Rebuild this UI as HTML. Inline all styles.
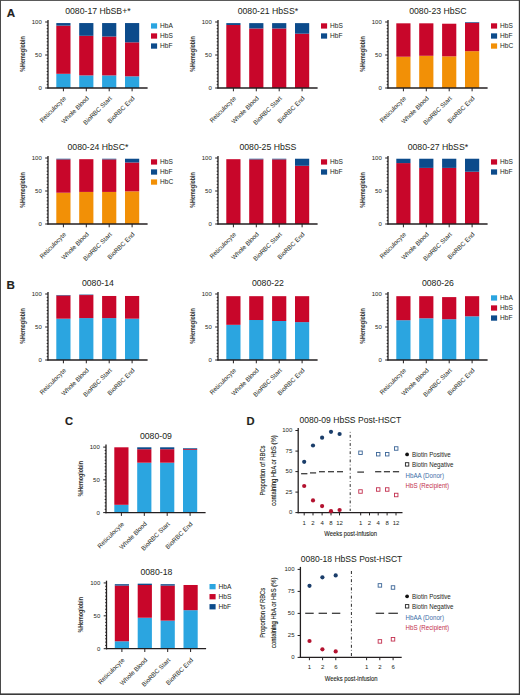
<!DOCTYPE html>
<html><head><meta charset="utf-8"><style>
html,body{margin:0;padding:0;background:#fff;}
svg{display:block;}
text{font-family:"Liberation Sans",sans-serif;}
</style></head><body>
<svg width="520" height="695" viewBox="0 0 520 695" font-family="Liberation Sans, sans-serif">
<rect width="520" height="695" fill="#fff"/>
<rect x="56.3" y="73.81" width="14.2" height="14.19" fill="#2ba5e0"/>
<rect x="56.3" y="25.63" width="14.2" height="48.18" fill="#c8062a"/>
<rect x="56.3" y="23.06" width="14.2" height="2.57" fill="#0c4b8b"/>
<rect x="79.2" y="75.39" width="14.2" height="12.61" fill="#2ba5e0"/>
<rect x="79.2" y="35.79" width="14.2" height="39.6" fill="#c8062a"/>
<rect x="79.2" y="23.06" width="14.2" height="12.74" fill="#0c4b8b"/>
<rect x="102.1" y="75.39" width="14.2" height="12.61" fill="#2ba5e0"/>
<rect x="102.1" y="36.52" width="14.2" height="38.87" fill="#c8062a"/>
<rect x="102.1" y="23.06" width="14.2" height="13.46" fill="#0c4b8b"/>
<rect x="125" y="76.32" width="14.2" height="11.68" fill="#2ba5e0"/>
<rect x="125" y="42.33" width="14.2" height="33.99" fill="#c8062a"/>
<rect x="125" y="23.06" width="14.2" height="19.27" fill="#0c4b8b"/>
<line x1="48" y1="20" x2="48" y2="88.6" stroke="#231f20" stroke-width="1.3" />
<line x1="45.2" y1="88" x2="48" y2="88" stroke="#231f20" stroke-width="1" />
<line x1="46.7" y1="84.7" x2="48" y2="84.7" stroke="#231f20" stroke-width="1" />
<line x1="46.7" y1="81.4" x2="48" y2="81.4" stroke="#231f20" stroke-width="1" />
<line x1="46.7" y1="78.1" x2="48" y2="78.1" stroke="#231f20" stroke-width="1" />
<line x1="46.7" y1="74.8" x2="48" y2="74.8" stroke="#231f20" stroke-width="1" />
<line x1="46.7" y1="71.5" x2="48" y2="71.5" stroke="#231f20" stroke-width="1" />
<line x1="46.7" y1="68.2" x2="48" y2="68.2" stroke="#231f20" stroke-width="1" />
<line x1="46.7" y1="64.9" x2="48" y2="64.9" stroke="#231f20" stroke-width="1" />
<line x1="46.7" y1="61.6" x2="48" y2="61.6" stroke="#231f20" stroke-width="1" />
<line x1="46.7" y1="58.3" x2="48" y2="58.3" stroke="#231f20" stroke-width="1" />
<line x1="45.2" y1="55" x2="48" y2="55" stroke="#231f20" stroke-width="1" />
<line x1="46.7" y1="51.7" x2="48" y2="51.7" stroke="#231f20" stroke-width="1" />
<line x1="46.7" y1="48.4" x2="48" y2="48.4" stroke="#231f20" stroke-width="1" />
<line x1="46.7" y1="45.1" x2="48" y2="45.1" stroke="#231f20" stroke-width="1" />
<line x1="46.7" y1="41.8" x2="48" y2="41.8" stroke="#231f20" stroke-width="1" />
<line x1="46.7" y1="38.5" x2="48" y2="38.5" stroke="#231f20" stroke-width="1" />
<line x1="46.7" y1="35.2" x2="48" y2="35.2" stroke="#231f20" stroke-width="1" />
<line x1="46.7" y1="31.9" x2="48" y2="31.9" stroke="#231f20" stroke-width="1" />
<line x1="46.7" y1="28.6" x2="48" y2="28.6" stroke="#231f20" stroke-width="1" />
<line x1="46.7" y1="25.3" x2="48" y2="25.3" stroke="#231f20" stroke-width="1" />
<line x1="45.2" y1="22" x2="48" y2="22" stroke="#231f20" stroke-width="1" />
<text x="41.8" y="90.15" font-size="6" text-anchor="end" fill="#231f20" stroke="#231f20" stroke-width="0" >0</text>
<text x="41.8" y="57.15" font-size="6" text-anchor="end" fill="#231f20" stroke="#231f20" stroke-width="0" >50</text>
<text x="41.8" y="24.15" font-size="6" text-anchor="end" fill="#231f20" stroke="#231f20" stroke-width="0" >100</text>
<line x1="47.4" y1="88" x2="147.6" y2="88" stroke="#231f20" stroke-width="1.3" />
<line x1="63.4" y1="88" x2="63.4" y2="91.3" stroke="#231f20" stroke-width="1" />
<text x="66.4" y="98.8" font-size="6.3" text-anchor="end" fill="#231f20" stroke="#231f20" stroke-width="0" transform="rotate(-45 66.4 98.8)">Reticulocyte</text>
<line x1="86.3" y1="88" x2="86.3" y2="91.3" stroke="#231f20" stroke-width="1" />
<text x="89.3" y="98.8" font-size="6.3" text-anchor="end" fill="#231f20" stroke="#231f20" stroke-width="0" transform="rotate(-45 89.3 98.8)">Whole Blood</text>
<line x1="109.2" y1="88" x2="109.2" y2="91.3" stroke="#231f20" stroke-width="1" />
<text x="112.2" y="98.8" font-size="6.3" text-anchor="end" fill="#231f20" stroke="#231f20" stroke-width="0" transform="rotate(-45 112.2 98.8)">BioRBC Start</text>
<line x1="132.1" y1="88" x2="132.1" y2="91.3" stroke="#231f20" stroke-width="1" />
<text x="135.1" y="98.8" font-size="6.3" text-anchor="end" fill="#231f20" stroke="#231f20" stroke-width="0" transform="rotate(-45 135.1 98.8)">BioRBC End</text>
<text x="97.9" y="14.4" font-size="8.7" text-anchor="middle" fill="#231f20" stroke="#231f20" stroke-width="0.03" >0080-17 HbSB+*</text>
<text font-size="6.5" font-weight="bold" fill="#333" text-anchor="middle" transform="translate(24.9 53.9) rotate(-90) scale(0.82 1)">%Hemoglobin</text>
<rect x="151" y="23.3" width="6.1" height="5.3" fill="#2ba5e0"/>
<text x="160.1" y="28.3" font-size="6.6" text-anchor="start" fill="#231f20" stroke="#231f20" stroke-width="0" >HbA</text>
<rect x="151" y="33.35" width="6.1" height="5.3" fill="#c8062a"/>
<text x="160.1" y="38.35" font-size="6.6" text-anchor="start" fill="#231f20" stroke="#231f20" stroke-width="0" >HbS</text>
<rect x="151" y="43.4" width="6.1" height="5.3" fill="#0c4b8b"/>
<text x="160.1" y="48.4" font-size="6.6" text-anchor="start" fill="#231f20" stroke="#231f20" stroke-width="0" >HbF</text>
<rect x="226.3" y="24.97" width="14.2" height="63.03" fill="#c8062a"/>
<rect x="226.3" y="23.12" width="14.2" height="1.85" fill="#0c4b8b"/>
<rect x="249.2" y="28.47" width="14.2" height="59.53" fill="#c8062a"/>
<rect x="249.2" y="23.12" width="14.2" height="5.35" fill="#0c4b8b"/>
<rect x="272.1" y="28.47" width="14.2" height="59.53" fill="#c8062a"/>
<rect x="272.1" y="23.12" width="14.2" height="5.35" fill="#0c4b8b"/>
<rect x="295" y="33.68" width="14.2" height="54.32" fill="#c8062a"/>
<rect x="295" y="23.12" width="14.2" height="10.56" fill="#0c4b8b"/>
<line x1="218" y1="20" x2="218" y2="88.6" stroke="#231f20" stroke-width="1.3" />
<line x1="215.2" y1="88" x2="218" y2="88" stroke="#231f20" stroke-width="1" />
<line x1="216.7" y1="84.7" x2="218" y2="84.7" stroke="#231f20" stroke-width="1" />
<line x1="216.7" y1="81.4" x2="218" y2="81.4" stroke="#231f20" stroke-width="1" />
<line x1="216.7" y1="78.1" x2="218" y2="78.1" stroke="#231f20" stroke-width="1" />
<line x1="216.7" y1="74.8" x2="218" y2="74.8" stroke="#231f20" stroke-width="1" />
<line x1="216.7" y1="71.5" x2="218" y2="71.5" stroke="#231f20" stroke-width="1" />
<line x1="216.7" y1="68.2" x2="218" y2="68.2" stroke="#231f20" stroke-width="1" />
<line x1="216.7" y1="64.9" x2="218" y2="64.9" stroke="#231f20" stroke-width="1" />
<line x1="216.7" y1="61.6" x2="218" y2="61.6" stroke="#231f20" stroke-width="1" />
<line x1="216.7" y1="58.3" x2="218" y2="58.3" stroke="#231f20" stroke-width="1" />
<line x1="215.2" y1="55" x2="218" y2="55" stroke="#231f20" stroke-width="1" />
<line x1="216.7" y1="51.7" x2="218" y2="51.7" stroke="#231f20" stroke-width="1" />
<line x1="216.7" y1="48.4" x2="218" y2="48.4" stroke="#231f20" stroke-width="1" />
<line x1="216.7" y1="45.1" x2="218" y2="45.1" stroke="#231f20" stroke-width="1" />
<line x1="216.7" y1="41.8" x2="218" y2="41.8" stroke="#231f20" stroke-width="1" />
<line x1="216.7" y1="38.5" x2="218" y2="38.5" stroke="#231f20" stroke-width="1" />
<line x1="216.7" y1="35.2" x2="218" y2="35.2" stroke="#231f20" stroke-width="1" />
<line x1="216.7" y1="31.9" x2="218" y2="31.9" stroke="#231f20" stroke-width="1" />
<line x1="216.7" y1="28.6" x2="218" y2="28.6" stroke="#231f20" stroke-width="1" />
<line x1="216.7" y1="25.3" x2="218" y2="25.3" stroke="#231f20" stroke-width="1" />
<line x1="215.2" y1="22" x2="218" y2="22" stroke="#231f20" stroke-width="1" />
<text x="211.8" y="90.15" font-size="6" text-anchor="end" fill="#231f20" stroke="#231f20" stroke-width="0" >0</text>
<text x="211.8" y="57.15" font-size="6" text-anchor="end" fill="#231f20" stroke="#231f20" stroke-width="0" >50</text>
<text x="211.8" y="24.15" font-size="6" text-anchor="end" fill="#231f20" stroke="#231f20" stroke-width="0" >100</text>
<line x1="217.4" y1="88" x2="317.6" y2="88" stroke="#231f20" stroke-width="1.3" />
<line x1="233.4" y1="88" x2="233.4" y2="91.3" stroke="#231f20" stroke-width="1" />
<text x="236.4" y="98.8" font-size="6.3" text-anchor="end" fill="#231f20" stroke="#231f20" stroke-width="0" transform="rotate(-45 236.4 98.8)">Reticulocyte</text>
<line x1="256.3" y1="88" x2="256.3" y2="91.3" stroke="#231f20" stroke-width="1" />
<text x="259.3" y="98.8" font-size="6.3" text-anchor="end" fill="#231f20" stroke="#231f20" stroke-width="0" transform="rotate(-45 259.3 98.8)">Whole Blood</text>
<line x1="279.2" y1="88" x2="279.2" y2="91.3" stroke="#231f20" stroke-width="1" />
<text x="282.2" y="98.8" font-size="6.3" text-anchor="end" fill="#231f20" stroke="#231f20" stroke-width="0" transform="rotate(-45 282.2 98.8)">BioRBC Start</text>
<line x1="302.1" y1="88" x2="302.1" y2="91.3" stroke="#231f20" stroke-width="1" />
<text x="305.1" y="98.8" font-size="6.3" text-anchor="end" fill="#231f20" stroke="#231f20" stroke-width="0" transform="rotate(-45 305.1 98.8)">BioRBC End</text>
<text x="267.9" y="14.4" font-size="8.7" text-anchor="middle" fill="#231f20" stroke="#231f20" stroke-width="0.03" >0080-21 HbSS*</text>
<text font-size="6.5" font-weight="bold" fill="#333" text-anchor="middle" transform="translate(194.9 53.9) rotate(-90) scale(0.82 1)">%Hemoglobin</text>
<rect x="321" y="23.3" width="6.1" height="5.3" fill="#c8062a"/>
<text x="330.1" y="28.3" font-size="6.6" text-anchor="start" fill="#231f20" stroke="#231f20" stroke-width="0" >HbS</text>
<rect x="321" y="33.35" width="6.1" height="5.3" fill="#0c4b8b"/>
<text x="330.1" y="38.35" font-size="6.6" text-anchor="start" fill="#231f20" stroke="#231f20" stroke-width="0" >HbF</text>
<rect x="396.3" y="56.72" width="14.2" height="31.28" fill="#f29006"/>
<rect x="396.3" y="23.32" width="14.2" height="33.4" fill="#c8062a"/>
<rect x="419.2" y="55.79" width="14.2" height="32.21" fill="#f29006"/>
<rect x="419.2" y="23.32" width="14.2" height="32.47" fill="#c8062a"/>
<rect x="442.1" y="56.32" width="14.2" height="31.68" fill="#f29006"/>
<rect x="442.1" y="23.72" width="14.2" height="32.6" fill="#c8062a"/>
<rect x="465" y="51.17" width="14.2" height="36.83" fill="#f29006"/>
<rect x="465" y="22.79" width="14.2" height="28.38" fill="#c8062a"/>
<rect x="465" y="22.13" width="14.2" height="0.66" fill="#0c4b8b"/>
<line x1="388" y1="20" x2="388" y2="88.6" stroke="#231f20" stroke-width="1.3" />
<line x1="385.2" y1="88" x2="388" y2="88" stroke="#231f20" stroke-width="1" />
<line x1="386.7" y1="84.7" x2="388" y2="84.7" stroke="#231f20" stroke-width="1" />
<line x1="386.7" y1="81.4" x2="388" y2="81.4" stroke="#231f20" stroke-width="1" />
<line x1="386.7" y1="78.1" x2="388" y2="78.1" stroke="#231f20" stroke-width="1" />
<line x1="386.7" y1="74.8" x2="388" y2="74.8" stroke="#231f20" stroke-width="1" />
<line x1="386.7" y1="71.5" x2="388" y2="71.5" stroke="#231f20" stroke-width="1" />
<line x1="386.7" y1="68.2" x2="388" y2="68.2" stroke="#231f20" stroke-width="1" />
<line x1="386.7" y1="64.9" x2="388" y2="64.9" stroke="#231f20" stroke-width="1" />
<line x1="386.7" y1="61.6" x2="388" y2="61.6" stroke="#231f20" stroke-width="1" />
<line x1="386.7" y1="58.3" x2="388" y2="58.3" stroke="#231f20" stroke-width="1" />
<line x1="385.2" y1="55" x2="388" y2="55" stroke="#231f20" stroke-width="1" />
<line x1="386.7" y1="51.7" x2="388" y2="51.7" stroke="#231f20" stroke-width="1" />
<line x1="386.7" y1="48.4" x2="388" y2="48.4" stroke="#231f20" stroke-width="1" />
<line x1="386.7" y1="45.1" x2="388" y2="45.1" stroke="#231f20" stroke-width="1" />
<line x1="386.7" y1="41.8" x2="388" y2="41.8" stroke="#231f20" stroke-width="1" />
<line x1="386.7" y1="38.5" x2="388" y2="38.5" stroke="#231f20" stroke-width="1" />
<line x1="386.7" y1="35.2" x2="388" y2="35.2" stroke="#231f20" stroke-width="1" />
<line x1="386.7" y1="31.9" x2="388" y2="31.9" stroke="#231f20" stroke-width="1" />
<line x1="386.7" y1="28.6" x2="388" y2="28.6" stroke="#231f20" stroke-width="1" />
<line x1="386.7" y1="25.3" x2="388" y2="25.3" stroke="#231f20" stroke-width="1" />
<line x1="385.2" y1="22" x2="388" y2="22" stroke="#231f20" stroke-width="1" />
<text x="381.8" y="90.15" font-size="6" text-anchor="end" fill="#231f20" stroke="#231f20" stroke-width="0" >0</text>
<text x="381.8" y="57.15" font-size="6" text-anchor="end" fill="#231f20" stroke="#231f20" stroke-width="0" >50</text>
<text x="381.8" y="24.15" font-size="6" text-anchor="end" fill="#231f20" stroke="#231f20" stroke-width="0" >100</text>
<line x1="387.4" y1="88" x2="487.6" y2="88" stroke="#231f20" stroke-width="1.3" />
<line x1="403.4" y1="88" x2="403.4" y2="91.3" stroke="#231f20" stroke-width="1" />
<text x="406.4" y="98.8" font-size="6.3" text-anchor="end" fill="#231f20" stroke="#231f20" stroke-width="0" transform="rotate(-45 406.4 98.8)">Reticulocyte</text>
<line x1="426.3" y1="88" x2="426.3" y2="91.3" stroke="#231f20" stroke-width="1" />
<text x="429.3" y="98.8" font-size="6.3" text-anchor="end" fill="#231f20" stroke="#231f20" stroke-width="0" transform="rotate(-45 429.3 98.8)">Whole Blood</text>
<line x1="449.2" y1="88" x2="449.2" y2="91.3" stroke="#231f20" stroke-width="1" />
<text x="452.2" y="98.8" font-size="6.3" text-anchor="end" fill="#231f20" stroke="#231f20" stroke-width="0" transform="rotate(-45 452.2 98.8)">BioRBC Start</text>
<line x1="472.1" y1="88" x2="472.1" y2="91.3" stroke="#231f20" stroke-width="1" />
<text x="475.1" y="98.8" font-size="6.3" text-anchor="end" fill="#231f20" stroke="#231f20" stroke-width="0" transform="rotate(-45 475.1 98.8)">BioRBC End</text>
<text x="437.9" y="14.4" font-size="8.7" text-anchor="middle" fill="#231f20" stroke="#231f20" stroke-width="0.03" >0080-23 HbSC</text>
<text font-size="6.5" font-weight="bold" fill="#333" text-anchor="middle" transform="translate(364.9 53.9) rotate(-90) scale(0.82 1)">%Hemoglobin</text>
<rect x="491" y="23.3" width="6.1" height="5.3" fill="#c8062a"/>
<text x="500.1" y="28.3" font-size="6.6" text-anchor="start" fill="#231f20" stroke="#231f20" stroke-width="0" >HbS</text>
<rect x="491" y="33.35" width="6.1" height="5.3" fill="#0c4b8b"/>
<text x="500.1" y="38.35" font-size="6.6" text-anchor="start" fill="#231f20" stroke="#231f20" stroke-width="0" >HbF</text>
<rect x="491" y="43.4" width="6.1" height="5.3" fill="#f29006"/>
<text x="500.1" y="48.4" font-size="6.6" text-anchor="start" fill="#231f20" stroke="#231f20" stroke-width="0" >HbC</text>
<rect x="56.3" y="192.72" width="14.2" height="31.28" fill="#f29006"/>
<rect x="56.3" y="159.39" width="14.2" height="33.33" fill="#c8062a"/>
<rect x="56.3" y="158.73" width="14.2" height="0.66" fill="#0c4b8b"/>
<rect x="79.2" y="191.92" width="14.2" height="32.08" fill="#f29006"/>
<rect x="79.2" y="159.19" width="14.2" height="32.74" fill="#c8062a"/>
<rect x="102.1" y="191.92" width="14.2" height="32.08" fill="#f29006"/>
<rect x="102.1" y="159.39" width="14.2" height="32.54" fill="#c8062a"/>
<rect x="102.1" y="158.73" width="14.2" height="0.66" fill="#0c4b8b"/>
<rect x="125" y="191.33" width="14.2" height="32.67" fill="#f29006"/>
<rect x="125" y="162.49" width="14.2" height="28.84" fill="#c8062a"/>
<rect x="125" y="158.73" width="14.2" height="3.76" fill="#0c4b8b"/>
<line x1="48" y1="156" x2="48" y2="224.6" stroke="#231f20" stroke-width="1.3" />
<line x1="45.2" y1="224" x2="48" y2="224" stroke="#231f20" stroke-width="1" />
<line x1="46.7" y1="220.7" x2="48" y2="220.7" stroke="#231f20" stroke-width="1" />
<line x1="46.7" y1="217.4" x2="48" y2="217.4" stroke="#231f20" stroke-width="1" />
<line x1="46.7" y1="214.1" x2="48" y2="214.1" stroke="#231f20" stroke-width="1" />
<line x1="46.7" y1="210.8" x2="48" y2="210.8" stroke="#231f20" stroke-width="1" />
<line x1="46.7" y1="207.5" x2="48" y2="207.5" stroke="#231f20" stroke-width="1" />
<line x1="46.7" y1="204.2" x2="48" y2="204.2" stroke="#231f20" stroke-width="1" />
<line x1="46.7" y1="200.9" x2="48" y2="200.9" stroke="#231f20" stroke-width="1" />
<line x1="46.7" y1="197.6" x2="48" y2="197.6" stroke="#231f20" stroke-width="1" />
<line x1="46.7" y1="194.3" x2="48" y2="194.3" stroke="#231f20" stroke-width="1" />
<line x1="45.2" y1="191" x2="48" y2="191" stroke="#231f20" stroke-width="1" />
<line x1="46.7" y1="187.7" x2="48" y2="187.7" stroke="#231f20" stroke-width="1" />
<line x1="46.7" y1="184.4" x2="48" y2="184.4" stroke="#231f20" stroke-width="1" />
<line x1="46.7" y1="181.1" x2="48" y2="181.1" stroke="#231f20" stroke-width="1" />
<line x1="46.7" y1="177.8" x2="48" y2="177.8" stroke="#231f20" stroke-width="1" />
<line x1="46.7" y1="174.5" x2="48" y2="174.5" stroke="#231f20" stroke-width="1" />
<line x1="46.7" y1="171.2" x2="48" y2="171.2" stroke="#231f20" stroke-width="1" />
<line x1="46.7" y1="167.9" x2="48" y2="167.9" stroke="#231f20" stroke-width="1" />
<line x1="46.7" y1="164.6" x2="48" y2="164.6" stroke="#231f20" stroke-width="1" />
<line x1="46.7" y1="161.3" x2="48" y2="161.3" stroke="#231f20" stroke-width="1" />
<line x1="45.2" y1="158" x2="48" y2="158" stroke="#231f20" stroke-width="1" />
<text x="41.8" y="226.15" font-size="6" text-anchor="end" fill="#231f20" stroke="#231f20" stroke-width="0" >0</text>
<text x="41.8" y="193.15" font-size="6" text-anchor="end" fill="#231f20" stroke="#231f20" stroke-width="0" >50</text>
<text x="41.8" y="160.15" font-size="6" text-anchor="end" fill="#231f20" stroke="#231f20" stroke-width="0" >100</text>
<line x1="47.4" y1="224" x2="147.6" y2="224" stroke="#231f20" stroke-width="1.3" />
<line x1="63.4" y1="224" x2="63.4" y2="227.3" stroke="#231f20" stroke-width="1" />
<text x="66.4" y="234.8" font-size="6.3" text-anchor="end" fill="#231f20" stroke="#231f20" stroke-width="0" transform="rotate(-45 66.4 234.8)">Reticulocyte</text>
<line x1="86.3" y1="224" x2="86.3" y2="227.3" stroke="#231f20" stroke-width="1" />
<text x="89.3" y="234.8" font-size="6.3" text-anchor="end" fill="#231f20" stroke="#231f20" stroke-width="0" transform="rotate(-45 89.3 234.8)">Whole Blood</text>
<line x1="109.2" y1="224" x2="109.2" y2="227.3" stroke="#231f20" stroke-width="1" />
<text x="112.2" y="234.8" font-size="6.3" text-anchor="end" fill="#231f20" stroke="#231f20" stroke-width="0" transform="rotate(-45 112.2 234.8)">BioRBC Start</text>
<line x1="132.1" y1="224" x2="132.1" y2="227.3" stroke="#231f20" stroke-width="1" />
<text x="135.1" y="234.8" font-size="6.3" text-anchor="end" fill="#231f20" stroke="#231f20" stroke-width="0" transform="rotate(-45 135.1 234.8)">BioRBC End</text>
<text x="97.9" y="150.4" font-size="8.7" text-anchor="middle" fill="#231f20" stroke="#231f20" stroke-width="0.03" >0080-24 HbSC*</text>
<text font-size="6.5" font-weight="bold" fill="#333" text-anchor="middle" transform="translate(24.9 189.9) rotate(-90) scale(0.82 1)">%Hemoglobin</text>
<rect x="151" y="159.3" width="6.1" height="5.3" fill="#c8062a"/>
<text x="160.1" y="164.3" font-size="6.6" text-anchor="start" fill="#231f20" stroke="#231f20" stroke-width="0" >HbS</text>
<rect x="151" y="169.35" width="6.1" height="5.3" fill="#0c4b8b"/>
<text x="160.1" y="174.35" font-size="6.6" text-anchor="start" fill="#231f20" stroke="#231f20" stroke-width="0" >HbF</text>
<rect x="151" y="179.4" width="6.1" height="5.3" fill="#f29006"/>
<text x="160.1" y="184.4" font-size="6.6" text-anchor="start" fill="#231f20" stroke="#231f20" stroke-width="0" >HbC</text>
<rect x="226.3" y="159.19" width="14.2" height="64.81" fill="#c8062a"/>
<rect x="249.2" y="159.39" width="14.2" height="64.61" fill="#c8062a"/>
<rect x="249.2" y="158.73" width="14.2" height="0.66" fill="#0c4b8b"/>
<rect x="272.1" y="159.39" width="14.2" height="64.61" fill="#c8062a"/>
<rect x="272.1" y="158.73" width="14.2" height="0.66" fill="#0c4b8b"/>
<rect x="295" y="165.79" width="14.2" height="58.21" fill="#c8062a"/>
<rect x="295" y="158.73" width="14.2" height="7.06" fill="#0c4b8b"/>
<line x1="218" y1="156" x2="218" y2="224.6" stroke="#231f20" stroke-width="1.3" />
<line x1="215.2" y1="224" x2="218" y2="224" stroke="#231f20" stroke-width="1" />
<line x1="216.7" y1="220.7" x2="218" y2="220.7" stroke="#231f20" stroke-width="1" />
<line x1="216.7" y1="217.4" x2="218" y2="217.4" stroke="#231f20" stroke-width="1" />
<line x1="216.7" y1="214.1" x2="218" y2="214.1" stroke="#231f20" stroke-width="1" />
<line x1="216.7" y1="210.8" x2="218" y2="210.8" stroke="#231f20" stroke-width="1" />
<line x1="216.7" y1="207.5" x2="218" y2="207.5" stroke="#231f20" stroke-width="1" />
<line x1="216.7" y1="204.2" x2="218" y2="204.2" stroke="#231f20" stroke-width="1" />
<line x1="216.7" y1="200.9" x2="218" y2="200.9" stroke="#231f20" stroke-width="1" />
<line x1="216.7" y1="197.6" x2="218" y2="197.6" stroke="#231f20" stroke-width="1" />
<line x1="216.7" y1="194.3" x2="218" y2="194.3" stroke="#231f20" stroke-width="1" />
<line x1="215.2" y1="191" x2="218" y2="191" stroke="#231f20" stroke-width="1" />
<line x1="216.7" y1="187.7" x2="218" y2="187.7" stroke="#231f20" stroke-width="1" />
<line x1="216.7" y1="184.4" x2="218" y2="184.4" stroke="#231f20" stroke-width="1" />
<line x1="216.7" y1="181.1" x2="218" y2="181.1" stroke="#231f20" stroke-width="1" />
<line x1="216.7" y1="177.8" x2="218" y2="177.8" stroke="#231f20" stroke-width="1" />
<line x1="216.7" y1="174.5" x2="218" y2="174.5" stroke="#231f20" stroke-width="1" />
<line x1="216.7" y1="171.2" x2="218" y2="171.2" stroke="#231f20" stroke-width="1" />
<line x1="216.7" y1="167.9" x2="218" y2="167.9" stroke="#231f20" stroke-width="1" />
<line x1="216.7" y1="164.6" x2="218" y2="164.6" stroke="#231f20" stroke-width="1" />
<line x1="216.7" y1="161.3" x2="218" y2="161.3" stroke="#231f20" stroke-width="1" />
<line x1="215.2" y1="158" x2="218" y2="158" stroke="#231f20" stroke-width="1" />
<text x="211.8" y="226.15" font-size="6" text-anchor="end" fill="#231f20" stroke="#231f20" stroke-width="0" >0</text>
<text x="211.8" y="193.15" font-size="6" text-anchor="end" fill="#231f20" stroke="#231f20" stroke-width="0" >50</text>
<text x="211.8" y="160.15" font-size="6" text-anchor="end" fill="#231f20" stroke="#231f20" stroke-width="0" >100</text>
<line x1="217.4" y1="224" x2="317.6" y2="224" stroke="#231f20" stroke-width="1.3" />
<line x1="233.4" y1="224" x2="233.4" y2="227.3" stroke="#231f20" stroke-width="1" />
<text x="236.4" y="234.8" font-size="6.3" text-anchor="end" fill="#231f20" stroke="#231f20" stroke-width="0" transform="rotate(-45 236.4 234.8)">Reticulocyte</text>
<line x1="256.3" y1="224" x2="256.3" y2="227.3" stroke="#231f20" stroke-width="1" />
<text x="259.3" y="234.8" font-size="6.3" text-anchor="end" fill="#231f20" stroke="#231f20" stroke-width="0" transform="rotate(-45 259.3 234.8)">Whole Blood</text>
<line x1="279.2" y1="224" x2="279.2" y2="227.3" stroke="#231f20" stroke-width="1" />
<text x="282.2" y="234.8" font-size="6.3" text-anchor="end" fill="#231f20" stroke="#231f20" stroke-width="0" transform="rotate(-45 282.2 234.8)">BioRBC Start</text>
<line x1="302.1" y1="224" x2="302.1" y2="227.3" stroke="#231f20" stroke-width="1" />
<text x="305.1" y="234.8" font-size="6.3" text-anchor="end" fill="#231f20" stroke="#231f20" stroke-width="0" transform="rotate(-45 305.1 234.8)">BioRBC End</text>
<text x="267.9" y="150.4" font-size="8.7" text-anchor="middle" fill="#231f20" stroke="#231f20" stroke-width="0.03" >0080-25 HbSS</text>
<text font-size="6.5" font-weight="bold" fill="#333" text-anchor="middle" transform="translate(194.9 189.9) rotate(-90) scale(0.82 1)">%Hemoglobin</text>
<rect x="321" y="159.3" width="6.1" height="5.3" fill="#c8062a"/>
<text x="330.1" y="164.3" font-size="6.6" text-anchor="start" fill="#231f20" stroke="#231f20" stroke-width="0" >HbS</text>
<rect x="321" y="169.35" width="6.1" height="5.3" fill="#0c4b8b"/>
<text x="330.1" y="174.35" font-size="6.6" text-anchor="start" fill="#231f20" stroke="#231f20" stroke-width="0" >HbF</text>
<rect x="396.3" y="163.08" width="14.2" height="60.92" fill="#c8062a"/>
<rect x="396.3" y="158.73" width="14.2" height="4.36" fill="#0c4b8b"/>
<rect x="419.2" y="167.9" width="14.2" height="56.1" fill="#c8062a"/>
<rect x="419.2" y="158.73" width="14.2" height="9.17" fill="#0c4b8b"/>
<rect x="442.1" y="167.9" width="14.2" height="56.1" fill="#c8062a"/>
<rect x="442.1" y="158.73" width="14.2" height="9.17" fill="#0c4b8b"/>
<rect x="465" y="171.73" width="14.2" height="52.27" fill="#c8062a"/>
<rect x="465" y="158.73" width="14.2" height="13" fill="#0c4b8b"/>
<line x1="388" y1="156" x2="388" y2="224.6" stroke="#231f20" stroke-width="1.3" />
<line x1="385.2" y1="224" x2="388" y2="224" stroke="#231f20" stroke-width="1" />
<line x1="386.7" y1="220.7" x2="388" y2="220.7" stroke="#231f20" stroke-width="1" />
<line x1="386.7" y1="217.4" x2="388" y2="217.4" stroke="#231f20" stroke-width="1" />
<line x1="386.7" y1="214.1" x2="388" y2="214.1" stroke="#231f20" stroke-width="1" />
<line x1="386.7" y1="210.8" x2="388" y2="210.8" stroke="#231f20" stroke-width="1" />
<line x1="386.7" y1="207.5" x2="388" y2="207.5" stroke="#231f20" stroke-width="1" />
<line x1="386.7" y1="204.2" x2="388" y2="204.2" stroke="#231f20" stroke-width="1" />
<line x1="386.7" y1="200.9" x2="388" y2="200.9" stroke="#231f20" stroke-width="1" />
<line x1="386.7" y1="197.6" x2="388" y2="197.6" stroke="#231f20" stroke-width="1" />
<line x1="386.7" y1="194.3" x2="388" y2="194.3" stroke="#231f20" stroke-width="1" />
<line x1="385.2" y1="191" x2="388" y2="191" stroke="#231f20" stroke-width="1" />
<line x1="386.7" y1="187.7" x2="388" y2="187.7" stroke="#231f20" stroke-width="1" />
<line x1="386.7" y1="184.4" x2="388" y2="184.4" stroke="#231f20" stroke-width="1" />
<line x1="386.7" y1="181.1" x2="388" y2="181.1" stroke="#231f20" stroke-width="1" />
<line x1="386.7" y1="177.8" x2="388" y2="177.8" stroke="#231f20" stroke-width="1" />
<line x1="386.7" y1="174.5" x2="388" y2="174.5" stroke="#231f20" stroke-width="1" />
<line x1="386.7" y1="171.2" x2="388" y2="171.2" stroke="#231f20" stroke-width="1" />
<line x1="386.7" y1="167.9" x2="388" y2="167.9" stroke="#231f20" stroke-width="1" />
<line x1="386.7" y1="164.6" x2="388" y2="164.6" stroke="#231f20" stroke-width="1" />
<line x1="386.7" y1="161.3" x2="388" y2="161.3" stroke="#231f20" stroke-width="1" />
<line x1="385.2" y1="158" x2="388" y2="158" stroke="#231f20" stroke-width="1" />
<text x="381.8" y="226.15" font-size="6" text-anchor="end" fill="#231f20" stroke="#231f20" stroke-width="0" >0</text>
<text x="381.8" y="193.15" font-size="6" text-anchor="end" fill="#231f20" stroke="#231f20" stroke-width="0" >50</text>
<text x="381.8" y="160.15" font-size="6" text-anchor="end" fill="#231f20" stroke="#231f20" stroke-width="0" >100</text>
<line x1="387.4" y1="224" x2="487.6" y2="224" stroke="#231f20" stroke-width="1.3" />
<line x1="403.4" y1="224" x2="403.4" y2="227.3" stroke="#231f20" stroke-width="1" />
<text x="406.4" y="234.8" font-size="6.3" text-anchor="end" fill="#231f20" stroke="#231f20" stroke-width="0" transform="rotate(-45 406.4 234.8)">Reticulocyte</text>
<line x1="426.3" y1="224" x2="426.3" y2="227.3" stroke="#231f20" stroke-width="1" />
<text x="429.3" y="234.8" font-size="6.3" text-anchor="end" fill="#231f20" stroke="#231f20" stroke-width="0" transform="rotate(-45 429.3 234.8)">Whole Blood</text>
<line x1="449.2" y1="224" x2="449.2" y2="227.3" stroke="#231f20" stroke-width="1" />
<text x="452.2" y="234.8" font-size="6.3" text-anchor="end" fill="#231f20" stroke="#231f20" stroke-width="0" transform="rotate(-45 452.2 234.8)">BioRBC Start</text>
<line x1="472.1" y1="224" x2="472.1" y2="227.3" stroke="#231f20" stroke-width="1" />
<text x="475.1" y="234.8" font-size="6.3" text-anchor="end" fill="#231f20" stroke="#231f20" stroke-width="0" transform="rotate(-45 475.1 234.8)">BioRBC End</text>
<text x="437.9" y="150.4" font-size="8.7" text-anchor="middle" fill="#231f20" stroke="#231f20" stroke-width="0.03" >0080-27 HbSS*</text>
<text font-size="6.5" font-weight="bold" fill="#333" text-anchor="middle" transform="translate(364.9 189.9) rotate(-90) scale(0.82 1)">%Hemoglobin</text>
<rect x="491" y="159.3" width="6.1" height="5.3" fill="#c8062a"/>
<text x="500.1" y="164.3" font-size="6.6" text-anchor="start" fill="#231f20" stroke="#231f20" stroke-width="0" >HbS</text>
<rect x="491" y="169.35" width="6.1" height="5.3" fill="#0c4b8b"/>
<text x="500.1" y="174.35" font-size="6.6" text-anchor="start" fill="#231f20" stroke="#231f20" stroke-width="0" >HbF</text>
<rect x="56.3" y="318.68" width="14.2" height="41.32" fill="#2ba5e0"/>
<rect x="56.3" y="295.45" width="14.2" height="23.23" fill="#c8062a"/>
<rect x="56.3" y="294.99" width="14.2" height="0.46" fill="#0c4b8b"/>
<rect x="79.2" y="318.09" width="14.2" height="41.91" fill="#2ba5e0"/>
<rect x="79.2" y="295.06" width="14.2" height="23.03" fill="#c8062a"/>
<rect x="79.2" y="294.59" width="14.2" height="0.46" fill="#0c4b8b"/>
<rect x="102.1" y="318.09" width="14.2" height="41.91" fill="#2ba5e0"/>
<rect x="102.1" y="295.98" width="14.2" height="22.11" fill="#c8062a"/>
<rect x="125" y="318.68" width="14.2" height="41.32" fill="#2ba5e0"/>
<rect x="125" y="295.98" width="14.2" height="22.7" fill="#c8062a"/>
<line x1="48" y1="292" x2="48" y2="360.6" stroke="#231f20" stroke-width="1.3" />
<line x1="45.2" y1="360" x2="48" y2="360" stroke="#231f20" stroke-width="1" />
<line x1="46.7" y1="356.7" x2="48" y2="356.7" stroke="#231f20" stroke-width="1" />
<line x1="46.7" y1="353.4" x2="48" y2="353.4" stroke="#231f20" stroke-width="1" />
<line x1="46.7" y1="350.1" x2="48" y2="350.1" stroke="#231f20" stroke-width="1" />
<line x1="46.7" y1="346.8" x2="48" y2="346.8" stroke="#231f20" stroke-width="1" />
<line x1="46.7" y1="343.5" x2="48" y2="343.5" stroke="#231f20" stroke-width="1" />
<line x1="46.7" y1="340.2" x2="48" y2="340.2" stroke="#231f20" stroke-width="1" />
<line x1="46.7" y1="336.9" x2="48" y2="336.9" stroke="#231f20" stroke-width="1" />
<line x1="46.7" y1="333.6" x2="48" y2="333.6" stroke="#231f20" stroke-width="1" />
<line x1="46.7" y1="330.3" x2="48" y2="330.3" stroke="#231f20" stroke-width="1" />
<line x1="45.2" y1="327" x2="48" y2="327" stroke="#231f20" stroke-width="1" />
<line x1="46.7" y1="323.7" x2="48" y2="323.7" stroke="#231f20" stroke-width="1" />
<line x1="46.7" y1="320.4" x2="48" y2="320.4" stroke="#231f20" stroke-width="1" />
<line x1="46.7" y1="317.1" x2="48" y2="317.1" stroke="#231f20" stroke-width="1" />
<line x1="46.7" y1="313.8" x2="48" y2="313.8" stroke="#231f20" stroke-width="1" />
<line x1="46.7" y1="310.5" x2="48" y2="310.5" stroke="#231f20" stroke-width="1" />
<line x1="46.7" y1="307.2" x2="48" y2="307.2" stroke="#231f20" stroke-width="1" />
<line x1="46.7" y1="303.9" x2="48" y2="303.9" stroke="#231f20" stroke-width="1" />
<line x1="46.7" y1="300.6" x2="48" y2="300.6" stroke="#231f20" stroke-width="1" />
<line x1="46.7" y1="297.3" x2="48" y2="297.3" stroke="#231f20" stroke-width="1" />
<line x1="45.2" y1="294" x2="48" y2="294" stroke="#231f20" stroke-width="1" />
<text x="41.8" y="362.15" font-size="6" text-anchor="end" fill="#231f20" stroke="#231f20" stroke-width="0" >0</text>
<text x="41.8" y="329.15" font-size="6" text-anchor="end" fill="#231f20" stroke="#231f20" stroke-width="0" >50</text>
<text x="41.8" y="296.15" font-size="6" text-anchor="end" fill="#231f20" stroke="#231f20" stroke-width="0" >100</text>
<line x1="47.4" y1="360" x2="147.6" y2="360" stroke="#231f20" stroke-width="1.3" />
<line x1="63.4" y1="360" x2="63.4" y2="363.3" stroke="#231f20" stroke-width="1" />
<text x="66.4" y="370.8" font-size="6.3" text-anchor="end" fill="#231f20" stroke="#231f20" stroke-width="0" transform="rotate(-45 66.4 370.8)">Reticulocyte</text>
<line x1="86.3" y1="360" x2="86.3" y2="363.3" stroke="#231f20" stroke-width="1" />
<text x="89.3" y="370.8" font-size="6.3" text-anchor="end" fill="#231f20" stroke="#231f20" stroke-width="0" transform="rotate(-45 89.3 370.8)">Whole Blood</text>
<line x1="109.2" y1="360" x2="109.2" y2="363.3" stroke="#231f20" stroke-width="1" />
<text x="112.2" y="370.8" font-size="6.3" text-anchor="end" fill="#231f20" stroke="#231f20" stroke-width="0" transform="rotate(-45 112.2 370.8)">BioRBC Start</text>
<line x1="132.1" y1="360" x2="132.1" y2="363.3" stroke="#231f20" stroke-width="1" />
<text x="135.1" y="370.8" font-size="6.3" text-anchor="end" fill="#231f20" stroke="#231f20" stroke-width="0" transform="rotate(-45 135.1 370.8)">BioRBC End</text>
<text x="97.9" y="286.4" font-size="8.7" text-anchor="middle" fill="#231f20" stroke="#231f20" stroke-width="0.03" >0080-14</text>
<text font-size="6.5" font-weight="bold" fill="#333" text-anchor="middle" transform="translate(24.9 325.9) rotate(-90) scale(0.82 1)">%Hemoglobin</text>
<rect x="226.3" y="324.82" width="14.2" height="35.18" fill="#2ba5e0"/>
<rect x="226.3" y="296.18" width="14.2" height="28.64" fill="#c8062a"/>
<rect x="249.2" y="320" width="14.2" height="40" fill="#2ba5e0"/>
<rect x="249.2" y="296.18" width="14.2" height="23.83" fill="#c8062a"/>
<rect x="272.1" y="320.99" width="14.2" height="39.01" fill="#2ba5e0"/>
<rect x="272.1" y="296.18" width="14.2" height="24.82" fill="#c8062a"/>
<rect x="295" y="322.12" width="14.2" height="37.88" fill="#2ba5e0"/>
<rect x="295" y="296.18" width="14.2" height="25.94" fill="#c8062a"/>
<line x1="218" y1="292" x2="218" y2="360.6" stroke="#231f20" stroke-width="1.3" />
<line x1="215.2" y1="360" x2="218" y2="360" stroke="#231f20" stroke-width="1" />
<line x1="216.7" y1="356.7" x2="218" y2="356.7" stroke="#231f20" stroke-width="1" />
<line x1="216.7" y1="353.4" x2="218" y2="353.4" stroke="#231f20" stroke-width="1" />
<line x1="216.7" y1="350.1" x2="218" y2="350.1" stroke="#231f20" stroke-width="1" />
<line x1="216.7" y1="346.8" x2="218" y2="346.8" stroke="#231f20" stroke-width="1" />
<line x1="216.7" y1="343.5" x2="218" y2="343.5" stroke="#231f20" stroke-width="1" />
<line x1="216.7" y1="340.2" x2="218" y2="340.2" stroke="#231f20" stroke-width="1" />
<line x1="216.7" y1="336.9" x2="218" y2="336.9" stroke="#231f20" stroke-width="1" />
<line x1="216.7" y1="333.6" x2="218" y2="333.6" stroke="#231f20" stroke-width="1" />
<line x1="216.7" y1="330.3" x2="218" y2="330.3" stroke="#231f20" stroke-width="1" />
<line x1="215.2" y1="327" x2="218" y2="327" stroke="#231f20" stroke-width="1" />
<line x1="216.7" y1="323.7" x2="218" y2="323.7" stroke="#231f20" stroke-width="1" />
<line x1="216.7" y1="320.4" x2="218" y2="320.4" stroke="#231f20" stroke-width="1" />
<line x1="216.7" y1="317.1" x2="218" y2="317.1" stroke="#231f20" stroke-width="1" />
<line x1="216.7" y1="313.8" x2="218" y2="313.8" stroke="#231f20" stroke-width="1" />
<line x1="216.7" y1="310.5" x2="218" y2="310.5" stroke="#231f20" stroke-width="1" />
<line x1="216.7" y1="307.2" x2="218" y2="307.2" stroke="#231f20" stroke-width="1" />
<line x1="216.7" y1="303.9" x2="218" y2="303.9" stroke="#231f20" stroke-width="1" />
<line x1="216.7" y1="300.6" x2="218" y2="300.6" stroke="#231f20" stroke-width="1" />
<line x1="216.7" y1="297.3" x2="218" y2="297.3" stroke="#231f20" stroke-width="1" />
<line x1="215.2" y1="294" x2="218" y2="294" stroke="#231f20" stroke-width="1" />
<text x="211.8" y="362.15" font-size="6" text-anchor="end" fill="#231f20" stroke="#231f20" stroke-width="0" >0</text>
<text x="211.8" y="329.15" font-size="6" text-anchor="end" fill="#231f20" stroke="#231f20" stroke-width="0" >50</text>
<text x="211.8" y="296.15" font-size="6" text-anchor="end" fill="#231f20" stroke="#231f20" stroke-width="0" >100</text>
<line x1="217.4" y1="360" x2="317.6" y2="360" stroke="#231f20" stroke-width="1.3" />
<line x1="233.4" y1="360" x2="233.4" y2="363.3" stroke="#231f20" stroke-width="1" />
<text x="236.4" y="370.8" font-size="6.3" text-anchor="end" fill="#231f20" stroke="#231f20" stroke-width="0" transform="rotate(-45 236.4 370.8)">Reticulocyte</text>
<line x1="256.3" y1="360" x2="256.3" y2="363.3" stroke="#231f20" stroke-width="1" />
<text x="259.3" y="370.8" font-size="6.3" text-anchor="end" fill="#231f20" stroke="#231f20" stroke-width="0" transform="rotate(-45 259.3 370.8)">Whole Blood</text>
<line x1="279.2" y1="360" x2="279.2" y2="363.3" stroke="#231f20" stroke-width="1" />
<text x="282.2" y="370.8" font-size="6.3" text-anchor="end" fill="#231f20" stroke="#231f20" stroke-width="0" transform="rotate(-45 282.2 370.8)">BioRBC Start</text>
<line x1="302.1" y1="360" x2="302.1" y2="363.3" stroke="#231f20" stroke-width="1" />
<text x="305.1" y="370.8" font-size="6.3" text-anchor="end" fill="#231f20" stroke="#231f20" stroke-width="0" transform="rotate(-45 305.1 370.8)">BioRBC End</text>
<text x="267.9" y="286.4" font-size="8.7" text-anchor="middle" fill="#231f20" stroke="#231f20" stroke-width="0.03" >0080-22</text>
<text font-size="6.5" font-weight="bold" fill="#333" text-anchor="middle" transform="translate(194.9 325.9) rotate(-90) scale(0.82 1)">%Hemoglobin</text>
<rect x="396.3" y="320.2" width="14.2" height="39.8" fill="#2ba5e0"/>
<rect x="396.3" y="296.18" width="14.2" height="24.02" fill="#c8062a"/>
<rect x="419.2" y="318.29" width="14.2" height="41.71" fill="#2ba5e0"/>
<rect x="419.2" y="296.18" width="14.2" height="22.11" fill="#c8062a"/>
<rect x="442.1" y="319.21" width="14.2" height="40.79" fill="#2ba5e0"/>
<rect x="442.1" y="297.1" width="14.2" height="22.11" fill="#c8062a"/>
<rect x="465" y="316.31" width="14.2" height="43.69" fill="#2ba5e0"/>
<rect x="465" y="296.18" width="14.2" height="20.13" fill="#c8062a"/>
<line x1="388" y1="292" x2="388" y2="360.6" stroke="#231f20" stroke-width="1.3" />
<line x1="385.2" y1="360" x2="388" y2="360" stroke="#231f20" stroke-width="1" />
<line x1="386.7" y1="356.7" x2="388" y2="356.7" stroke="#231f20" stroke-width="1" />
<line x1="386.7" y1="353.4" x2="388" y2="353.4" stroke="#231f20" stroke-width="1" />
<line x1="386.7" y1="350.1" x2="388" y2="350.1" stroke="#231f20" stroke-width="1" />
<line x1="386.7" y1="346.8" x2="388" y2="346.8" stroke="#231f20" stroke-width="1" />
<line x1="386.7" y1="343.5" x2="388" y2="343.5" stroke="#231f20" stroke-width="1" />
<line x1="386.7" y1="340.2" x2="388" y2="340.2" stroke="#231f20" stroke-width="1" />
<line x1="386.7" y1="336.9" x2="388" y2="336.9" stroke="#231f20" stroke-width="1" />
<line x1="386.7" y1="333.6" x2="388" y2="333.6" stroke="#231f20" stroke-width="1" />
<line x1="386.7" y1="330.3" x2="388" y2="330.3" stroke="#231f20" stroke-width="1" />
<line x1="385.2" y1="327" x2="388" y2="327" stroke="#231f20" stroke-width="1" />
<line x1="386.7" y1="323.7" x2="388" y2="323.7" stroke="#231f20" stroke-width="1" />
<line x1="386.7" y1="320.4" x2="388" y2="320.4" stroke="#231f20" stroke-width="1" />
<line x1="386.7" y1="317.1" x2="388" y2="317.1" stroke="#231f20" stroke-width="1" />
<line x1="386.7" y1="313.8" x2="388" y2="313.8" stroke="#231f20" stroke-width="1" />
<line x1="386.7" y1="310.5" x2="388" y2="310.5" stroke="#231f20" stroke-width="1" />
<line x1="386.7" y1="307.2" x2="388" y2="307.2" stroke="#231f20" stroke-width="1" />
<line x1="386.7" y1="303.9" x2="388" y2="303.9" stroke="#231f20" stroke-width="1" />
<line x1="386.7" y1="300.6" x2="388" y2="300.6" stroke="#231f20" stroke-width="1" />
<line x1="386.7" y1="297.3" x2="388" y2="297.3" stroke="#231f20" stroke-width="1" />
<line x1="385.2" y1="294" x2="388" y2="294" stroke="#231f20" stroke-width="1" />
<text x="381.8" y="362.15" font-size="6" text-anchor="end" fill="#231f20" stroke="#231f20" stroke-width="0" >0</text>
<text x="381.8" y="329.15" font-size="6" text-anchor="end" fill="#231f20" stroke="#231f20" stroke-width="0" >50</text>
<text x="381.8" y="296.15" font-size="6" text-anchor="end" fill="#231f20" stroke="#231f20" stroke-width="0" >100</text>
<line x1="387.4" y1="360" x2="487.6" y2="360" stroke="#231f20" stroke-width="1.3" />
<line x1="403.4" y1="360" x2="403.4" y2="363.3" stroke="#231f20" stroke-width="1" />
<text x="406.4" y="370.8" font-size="6.3" text-anchor="end" fill="#231f20" stroke="#231f20" stroke-width="0" transform="rotate(-45 406.4 370.8)">Reticulocyte</text>
<line x1="426.3" y1="360" x2="426.3" y2="363.3" stroke="#231f20" stroke-width="1" />
<text x="429.3" y="370.8" font-size="6.3" text-anchor="end" fill="#231f20" stroke="#231f20" stroke-width="0" transform="rotate(-45 429.3 370.8)">Whole Blood</text>
<line x1="449.2" y1="360" x2="449.2" y2="363.3" stroke="#231f20" stroke-width="1" />
<text x="452.2" y="370.8" font-size="6.3" text-anchor="end" fill="#231f20" stroke="#231f20" stroke-width="0" transform="rotate(-45 452.2 370.8)">BioRBC Start</text>
<line x1="472.1" y1="360" x2="472.1" y2="363.3" stroke="#231f20" stroke-width="1" />
<text x="475.1" y="370.8" font-size="6.3" text-anchor="end" fill="#231f20" stroke="#231f20" stroke-width="0" transform="rotate(-45 475.1 370.8)">BioRBC End</text>
<text x="437.9" y="286.4" font-size="8.7" text-anchor="middle" fill="#231f20" stroke="#231f20" stroke-width="0.03" >0080-26</text>
<text font-size="6.5" font-weight="bold" fill="#333" text-anchor="middle" transform="translate(364.9 325.9) rotate(-90) scale(0.82 1)">%Hemoglobin</text>
<rect x="491" y="295.3" width="6.1" height="5.3" fill="#2ba5e0"/>
<text x="500.1" y="300.3" font-size="6.6" text-anchor="start" fill="#231f20" stroke="#231f20" stroke-width="0" >HbA</text>
<rect x="491" y="305.35" width="6.1" height="5.3" fill="#c8062a"/>
<text x="500.1" y="310.35" font-size="6.6" text-anchor="start" fill="#231f20" stroke="#231f20" stroke-width="0" >HbS</text>
<rect x="491" y="315.4" width="6.1" height="5.3" fill="#0c4b8b"/>
<text x="500.1" y="320.4" font-size="6.6" text-anchor="start" fill="#231f20" stroke="#231f20" stroke-width="0" >HbF</text>
<rect x="114.3" y="504.81" width="14.2" height="7.79" fill="#2ba5e0"/>
<rect x="114.3" y="447.3" width="14.2" height="57.51" fill="#c8062a"/>
<rect x="137.2" y="462.69" width="14.2" height="49.91" fill="#2ba5e0"/>
<rect x="137.2" y="449.2" width="14.2" height="13.49" fill="#c8062a"/>
<rect x="137.2" y="447.3" width="14.2" height="1.9" fill="#0c4b8b"/>
<rect x="160.1" y="462.69" width="14.2" height="49.91" fill="#2ba5e0"/>
<rect x="160.1" y="449.2" width="14.2" height="13.49" fill="#c8062a"/>
<rect x="160.1" y="447.3" width="14.2" height="1.9" fill="#0c4b8b"/>
<rect x="183" y="449.98" width="14.2" height="62.62" fill="#2ba5e0"/>
<rect x="183" y="449.13" width="14.2" height="0.85" fill="#c8062a"/>
<rect x="183" y="448.28" width="14.2" height="0.85" fill="#0c4b8b"/>
<line x1="106" y1="444.6" x2="106" y2="513.2" stroke="#231f20" stroke-width="1.3" />
<line x1="103.2" y1="512.6" x2="106" y2="512.6" stroke="#231f20" stroke-width="1" />
<line x1="104.7" y1="509.33" x2="106" y2="509.33" stroke="#231f20" stroke-width="1" />
<line x1="104.7" y1="506.05" x2="106" y2="506.05" stroke="#231f20" stroke-width="1" />
<line x1="104.7" y1="502.78" x2="106" y2="502.78" stroke="#231f20" stroke-width="1" />
<line x1="104.7" y1="499.5" x2="106" y2="499.5" stroke="#231f20" stroke-width="1" />
<line x1="104.7" y1="496.23" x2="106" y2="496.23" stroke="#231f20" stroke-width="1" />
<line x1="104.7" y1="492.95" x2="106" y2="492.95" stroke="#231f20" stroke-width="1" />
<line x1="104.7" y1="489.68" x2="106" y2="489.68" stroke="#231f20" stroke-width="1" />
<line x1="104.7" y1="486.4" x2="106" y2="486.4" stroke="#231f20" stroke-width="1" />
<line x1="104.7" y1="483.12" x2="106" y2="483.12" stroke="#231f20" stroke-width="1" />
<line x1="103.2" y1="479.85" x2="106" y2="479.85" stroke="#231f20" stroke-width="1" />
<line x1="104.7" y1="476.58" x2="106" y2="476.58" stroke="#231f20" stroke-width="1" />
<line x1="104.7" y1="473.3" x2="106" y2="473.3" stroke="#231f20" stroke-width="1" />
<line x1="104.7" y1="470.03" x2="106" y2="470.03" stroke="#231f20" stroke-width="1" />
<line x1="104.7" y1="466.75" x2="106" y2="466.75" stroke="#231f20" stroke-width="1" />
<line x1="104.7" y1="463.48" x2="106" y2="463.48" stroke="#231f20" stroke-width="1" />
<line x1="104.7" y1="460.2" x2="106" y2="460.2" stroke="#231f20" stroke-width="1" />
<line x1="104.7" y1="456.93" x2="106" y2="456.93" stroke="#231f20" stroke-width="1" />
<line x1="104.7" y1="453.65" x2="106" y2="453.65" stroke="#231f20" stroke-width="1" />
<line x1="104.7" y1="450.38" x2="106" y2="450.38" stroke="#231f20" stroke-width="1" />
<line x1="103.2" y1="447.1" x2="106" y2="447.1" stroke="#231f20" stroke-width="1" />
<text x="99.8" y="514.75" font-size="6" text-anchor="end" fill="#231f20" stroke="#231f20" stroke-width="0" >0</text>
<text x="99.8" y="482" font-size="6" text-anchor="end" fill="#231f20" stroke="#231f20" stroke-width="0" >50</text>
<text x="99.8" y="449.25" font-size="6" text-anchor="end" fill="#231f20" stroke="#231f20" stroke-width="0" >100</text>
<line x1="105.4" y1="512.6" x2="205.6" y2="512.6" stroke="#231f20" stroke-width="1.3" />
<line x1="121.4" y1="512.6" x2="121.4" y2="515.9" stroke="#231f20" stroke-width="1" />
<text x="124.4" y="524.4" font-size="6.3" text-anchor="end" fill="#231f20" stroke="#231f20" stroke-width="0" transform="rotate(-45 124.4 524.4)">Reticulocyte</text>
<line x1="144.3" y1="512.6" x2="144.3" y2="515.9" stroke="#231f20" stroke-width="1" />
<text x="147.3" y="524.4" font-size="6.3" text-anchor="end" fill="#231f20" stroke="#231f20" stroke-width="0" transform="rotate(-45 147.3 524.4)">Whole Blood</text>
<line x1="167.2" y1="512.6" x2="167.2" y2="515.9" stroke="#231f20" stroke-width="1" />
<text x="170.2" y="524.4" font-size="6.3" text-anchor="end" fill="#231f20" stroke="#231f20" stroke-width="0" transform="rotate(-45 170.2 524.4)">BioRBC Start</text>
<line x1="190.1" y1="512.6" x2="190.1" y2="515.9" stroke="#231f20" stroke-width="1" />
<text x="193.1" y="524.4" font-size="6.3" text-anchor="end" fill="#231f20" stroke="#231f20" stroke-width="0" transform="rotate(-45 193.1 524.4)">BioRBC End</text>
<text x="155.9" y="439" font-size="8.7" text-anchor="middle" fill="#231f20" stroke="#231f20" stroke-width="0.03" >0080-09</text>
<text font-size="6.5" font-weight="bold" fill="#333" text-anchor="middle" transform="translate(82.9 478.75) rotate(-90) scale(0.82 1)">%Hemoglobin</text>
<rect x="114.8" y="641.27" width="14.2" height="7.43" fill="#2ba5e0"/>
<rect x="114.8" y="585.58" width="14.2" height="55.69" fill="#c8062a"/>
<rect x="114.8" y="584.2" width="14.2" height="1.38" fill="#0c4b8b"/>
<rect x="137.7" y="617.73" width="14.2" height="30.97" fill="#2ba5e0"/>
<rect x="137.7" y="584.99" width="14.2" height="32.74" fill="#c8062a"/>
<rect x="137.7" y="583.67" width="14.2" height="1.31" fill="#0c4b8b"/>
<rect x="160.6" y="620.62" width="14.2" height="28.08" fill="#2ba5e0"/>
<rect x="160.6" y="585.58" width="14.2" height="35.04" fill="#c8062a"/>
<rect x="160.6" y="584.2" width="14.2" height="1.38" fill="#0c4b8b"/>
<rect x="183.5" y="610.17" width="14.2" height="38.53" fill="#2ba5e0"/>
<rect x="183.5" y="584.99" width="14.2" height="25.18" fill="#c8062a"/>
<line x1="106.5" y1="580.7" x2="106.5" y2="649.3" stroke="#231f20" stroke-width="1.3" />
<line x1="103.7" y1="648.7" x2="106.5" y2="648.7" stroke="#231f20" stroke-width="1" />
<line x1="105.2" y1="645.41" x2="106.5" y2="645.41" stroke="#231f20" stroke-width="1" />
<line x1="105.2" y1="642.12" x2="106.5" y2="642.12" stroke="#231f20" stroke-width="1" />
<line x1="105.2" y1="638.84" x2="106.5" y2="638.84" stroke="#231f20" stroke-width="1" />
<line x1="105.2" y1="635.55" x2="106.5" y2="635.55" stroke="#231f20" stroke-width="1" />
<line x1="105.2" y1="632.26" x2="106.5" y2="632.26" stroke="#231f20" stroke-width="1" />
<line x1="105.2" y1="628.98" x2="106.5" y2="628.98" stroke="#231f20" stroke-width="1" />
<line x1="105.2" y1="625.69" x2="106.5" y2="625.69" stroke="#231f20" stroke-width="1" />
<line x1="105.2" y1="622.4" x2="106.5" y2="622.4" stroke="#231f20" stroke-width="1" />
<line x1="105.2" y1="619.11" x2="106.5" y2="619.11" stroke="#231f20" stroke-width="1" />
<line x1="103.7" y1="615.83" x2="106.5" y2="615.83" stroke="#231f20" stroke-width="1" />
<line x1="105.2" y1="612.54" x2="106.5" y2="612.54" stroke="#231f20" stroke-width="1" />
<line x1="105.2" y1="609.25" x2="106.5" y2="609.25" stroke="#231f20" stroke-width="1" />
<line x1="105.2" y1="605.96" x2="106.5" y2="605.96" stroke="#231f20" stroke-width="1" />
<line x1="105.2" y1="602.68" x2="106.5" y2="602.68" stroke="#231f20" stroke-width="1" />
<line x1="105.2" y1="599.39" x2="106.5" y2="599.39" stroke="#231f20" stroke-width="1" />
<line x1="105.2" y1="596.1" x2="106.5" y2="596.1" stroke="#231f20" stroke-width="1" />
<line x1="105.2" y1="592.81" x2="106.5" y2="592.81" stroke="#231f20" stroke-width="1" />
<line x1="105.2" y1="589.53" x2="106.5" y2="589.53" stroke="#231f20" stroke-width="1" />
<line x1="105.2" y1="586.24" x2="106.5" y2="586.24" stroke="#231f20" stroke-width="1" />
<line x1="103.7" y1="582.95" x2="106.5" y2="582.95" stroke="#231f20" stroke-width="1" />
<text x="100.3" y="650.85" font-size="6" text-anchor="end" fill="#231f20" stroke="#231f20" stroke-width="0" >0</text>
<text x="100.3" y="617.98" font-size="6" text-anchor="end" fill="#231f20" stroke="#231f20" stroke-width="0" >50</text>
<text x="100.3" y="585.1" font-size="6" text-anchor="end" fill="#231f20" stroke="#231f20" stroke-width="0" >100</text>
<line x1="105.9" y1="648.7" x2="206.1" y2="648.7" stroke="#231f20" stroke-width="1.3" />
<line x1="121.9" y1="648.7" x2="121.9" y2="652" stroke="#231f20" stroke-width="1" />
<text x="124.9" y="660.5" font-size="6.3" text-anchor="end" fill="#231f20" stroke="#231f20" stroke-width="0" transform="rotate(-45 124.9 660.5)">Reticulocyte</text>
<line x1="144.8" y1="648.7" x2="144.8" y2="652" stroke="#231f20" stroke-width="1" />
<text x="147.8" y="660.5" font-size="6.3" text-anchor="end" fill="#231f20" stroke="#231f20" stroke-width="0" transform="rotate(-45 147.8 660.5)">Whole Blood</text>
<line x1="167.7" y1="648.7" x2="167.7" y2="652" stroke="#231f20" stroke-width="1" />
<text x="170.7" y="660.5" font-size="6.3" text-anchor="end" fill="#231f20" stroke="#231f20" stroke-width="0" transform="rotate(-45 170.7 660.5)">BioRBC Start</text>
<line x1="190.6" y1="648.7" x2="190.6" y2="652" stroke="#231f20" stroke-width="1" />
<text x="193.6" y="660.5" font-size="6.3" text-anchor="end" fill="#231f20" stroke="#231f20" stroke-width="0" transform="rotate(-45 193.6 660.5)">BioRBC End</text>
<text x="156.4" y="575.1" font-size="8.7" text-anchor="middle" fill="#231f20" stroke="#231f20" stroke-width="0.03" >0080-18</text>
<text font-size="6.5" font-weight="bold" fill="#333" text-anchor="middle" transform="translate(83.4 614.73) rotate(-90) scale(0.82 1)">%Hemoglobin</text>
<rect x="209.5" y="584" width="6.1" height="5.3" fill="#2ba5e0"/>
<text x="218.6" y="589" font-size="6.6" text-anchor="start" fill="#231f20" stroke="#231f20" stroke-width="0" >HbA</text>
<rect x="209.5" y="594.05" width="6.1" height="5.3" fill="#c8062a"/>
<text x="218.6" y="599.05" font-size="6.6" text-anchor="start" fill="#231f20" stroke="#231f20" stroke-width="0" >HbS</text>
<rect x="209.5" y="604.1" width="6.1" height="5.3" fill="#0c4b8b"/>
<text x="218.6" y="609.1" font-size="6.6" text-anchor="start" fill="#231f20" stroke="#231f20" stroke-width="0" >HbF</text>
<text x="6.8" y="16.8" font-size="11.6" text-anchor="start" fill="#231f20" stroke="#231f20" stroke-width="0.15" font-weight="bold" >A</text>
<text x="6.6" y="288.8" font-size="11.6" text-anchor="start" fill="#231f20" stroke="#231f20" stroke-width="0.15" font-weight="bold" >B</text>
<text x="65.1" y="425.2" font-size="11.2" text-anchor="start" fill="#231f20" stroke="#231f20" stroke-width="0.15" font-weight="bold" >C</text>
<text x="246.4" y="424.8" font-size="11.2" text-anchor="start" fill="#231f20" stroke="#231f20" stroke-width="0.15" font-weight="bold" >D</text>
<text x="299.5" y="422.5" font-size="8.56" text-anchor="start" fill="#231f20" stroke="#231f20" stroke-width="0.03" >0080-09 HbSS Post-HSCT</text>
<line x1="298.2" y1="428" x2="298.2" y2="513.2" stroke="#231f20" stroke-width="1.3" />
<line x1="295.4" y1="512.6" x2="298.2" y2="512.6" stroke="#231f20" stroke-width="1" />
<text x="292.3" y="514.3" font-size="6" text-anchor="end" fill="#231f20" stroke="#231f20" stroke-width="0" >0</text>
<line x1="295.4" y1="492.1" x2="298.2" y2="492.1" stroke="#231f20" stroke-width="1" />
<text x="292.3" y="493.8" font-size="6" text-anchor="end" fill="#231f20" stroke="#231f20" stroke-width="0" >25</text>
<line x1="295.4" y1="471.6" x2="298.2" y2="471.6" stroke="#231f20" stroke-width="1" />
<text x="292.3" y="473.3" font-size="6" text-anchor="end" fill="#231f20" stroke="#231f20" stroke-width="0" >50</text>
<line x1="295.4" y1="451.1" x2="298.2" y2="451.1" stroke="#231f20" stroke-width="1" />
<text x="292.3" y="452.8" font-size="6" text-anchor="end" fill="#231f20" stroke="#231f20" stroke-width="0" >75</text>
<line x1="295.4" y1="430.5" x2="298.2" y2="430.5" stroke="#231f20" stroke-width="1" />
<text x="292.3" y="432.2" font-size="6" text-anchor="end" fill="#231f20" stroke="#231f20" stroke-width="0" >100</text>
<line x1="297.6" y1="512.6" x2="402.5" y2="512.6" stroke="#231f20" stroke-width="1.3" />
<line x1="304.2" y1="512.6" x2="304.2" y2="515.4" stroke="#231f20" stroke-width="1" />
<text x="304.2" y="524.5" font-size="6" text-anchor="middle" fill="#231f20" stroke="#231f20" stroke-width="0" >1</text>
<line x1="313" y1="512.6" x2="313" y2="515.4" stroke="#231f20" stroke-width="1" />
<text x="313" y="524.5" font-size="6" text-anchor="middle" fill="#231f20" stroke="#231f20" stroke-width="0" >2</text>
<line x1="322.1" y1="512.6" x2="322.1" y2="515.4" stroke="#231f20" stroke-width="1" />
<text x="322.1" y="524.5" font-size="6" text-anchor="middle" fill="#231f20" stroke="#231f20" stroke-width="0" >4</text>
<line x1="331" y1="512.6" x2="331" y2="515.4" stroke="#231f20" stroke-width="1" />
<text x="331" y="524.5" font-size="6" text-anchor="middle" fill="#231f20" stroke="#231f20" stroke-width="0" >8</text>
<line x1="339.5" y1="512.6" x2="339.5" y2="515.4" stroke="#231f20" stroke-width="1" />
<text x="339.5" y="524.5" font-size="6" text-anchor="middle" fill="#231f20" stroke="#231f20" stroke-width="0" >12</text>
<line x1="360.7" y1="512.6" x2="360.7" y2="515.4" stroke="#231f20" stroke-width="1" />
<text x="360.7" y="524.5" font-size="6" text-anchor="middle" fill="#231f20" stroke="#231f20" stroke-width="0" >1</text>
<line x1="369.5" y1="512.6" x2="369.5" y2="515.4" stroke="#231f20" stroke-width="1" />
<text x="369.5" y="524.5" font-size="6" text-anchor="middle" fill="#231f20" stroke="#231f20" stroke-width="0" >2</text>
<line x1="378.2" y1="512.6" x2="378.2" y2="515.4" stroke="#231f20" stroke-width="1" />
<text x="378.2" y="524.5" font-size="6" text-anchor="middle" fill="#231f20" stroke="#231f20" stroke-width="0" >4</text>
<line x1="387.1" y1="512.6" x2="387.1" y2="515.4" stroke="#231f20" stroke-width="1" />
<text x="387.1" y="524.5" font-size="6" text-anchor="middle" fill="#231f20" stroke="#231f20" stroke-width="0" >8</text>
<line x1="396" y1="512.6" x2="396" y2="515.4" stroke="#231f20" stroke-width="1" />
<text x="396" y="524.5" font-size="6" text-anchor="middle" fill="#231f20" stroke="#231f20" stroke-width="0" >12</text>
<text font-size="6.4" fill="#231f20" stroke="#231f20" stroke-width="0.1" text-anchor="middle" transform="translate(350.7 536.2) scale(0.92 1)">Weeks post-infusion</text>
<text font-size="6.7" fill="#231f20" stroke="#231f20" stroke-width="0.12" text-anchor="middle" transform="translate(265.1 470.5) rotate(-90) scale(0.868 1)">Proportion of RBCs</text>
<text font-size="6.7" fill="#231f20" stroke="#231f20" stroke-width="0.12" text-anchor="middle" transform="translate(275.9 470.5) rotate(-90) scale(0.88 1)">containing HbA or HbS (%)</text>
<line x1="301.1" y1="473.7" x2="307.4" y2="473.7" stroke="#3c3c3c" stroke-width="1.3" />
<line x1="310" y1="472.9" x2="316.1" y2="472.9" stroke="#3c3c3c" stroke-width="1.3" />
<line x1="319" y1="471.7" x2="324.9" y2="471.7" stroke="#3c3c3c" stroke-width="1.3" />
<line x1="328" y1="471.7" x2="334" y2="471.7" stroke="#3c3c3c" stroke-width="1.3" />
<line x1="337" y1="471.7" x2="343" y2="471.7" stroke="#3c3c3c" stroke-width="1.3" />
<line x1="357.3" y1="472.1" x2="364" y2="472.1" stroke="#3c3c3c" stroke-width="1.3" />
<line x1="375.1" y1="471.7" x2="381.3" y2="471.7" stroke="#3c3c3c" stroke-width="1.3" />
<line x1="383.9" y1="471.7" x2="390" y2="471.7" stroke="#3c3c3c" stroke-width="1.3" />
<line x1="392.9" y1="471.7" x2="399.1" y2="471.7" stroke="#3c3c3c" stroke-width="1.3" />
<line x1="350.2" y1="431.9" x2="350.2" y2="511" stroke="#2a2a2a" stroke-width="1" stroke-dasharray="0.7 2.3 2.8 2.4"/>
<circle cx="304.2" cy="461.8" r="2.1" fill="#1a3d6a"/>
<circle cx="313" cy="445.5" r="2.1" fill="#1a3d6a"/>
<circle cx="322.1" cy="437.7" r="2.1" fill="#1a3d6a"/>
<circle cx="331" cy="431.8" r="2.1" fill="#1a3d6a"/>
<circle cx="339.6" cy="434" r="2.1" fill="#1a3d6a"/>
<circle cx="304.2" cy="486" r="2.1" fill="#b3122f"/>
<circle cx="313" cy="500.4" r="2.1" fill="#b3122f"/>
<circle cx="322.1" cy="506.1" r="2.1" fill="#b3122f"/>
<circle cx="331" cy="511.2" r="2.1" fill="#b3122f"/>
<circle cx="339.6" cy="510" r="2.1" fill="#b3122f"/>
<rect x="358.75" y="451.05" width="3.5" height="3.5" fill="none" stroke="#3a6496" stroke-width="0.9"/>
<rect x="376.45" y="452.45" width="3.5" height="3.5" fill="none" stroke="#3a6496" stroke-width="0.9"/>
<rect x="385.45" y="452.45" width="3.5" height="3.5" fill="none" stroke="#3a6496" stroke-width="0.9"/>
<rect x="394.45" y="446.75" width="3.5" height="3.5" fill="none" stroke="#3a6496" stroke-width="0.9"/>
<rect x="358.75" y="489.75" width="3.5" height="3.5" fill="none" stroke="#c3304f" stroke-width="0.9"/>
<rect x="376.45" y="487.75" width="3.5" height="3.5" fill="none" stroke="#c3304f" stroke-width="0.9"/>
<rect x="385.45" y="487.75" width="3.5" height="3.5" fill="none" stroke="#c3304f" stroke-width="0.9"/>
<rect x="394.45" y="493.25" width="3.5" height="3.5" fill="none" stroke="#c3304f" stroke-width="0.9"/>
<circle cx="407.1" cy="454.4" r="1.9" fill="#111"/>
<text font-size="6.75" fill="#231f20" transform="translate(412.1 456.7) scale(0.915 1)">Biotin Positive</text>
<rect x="405.4" y="462.7" width="3.4" height="3.4" fill="none" stroke="#222" stroke-width="0.9"/>
<text font-size="6.75" fill="#231f20" transform="translate(412.1 466.7) scale(0.915 1)">Biotin Negative</text>
<text font-size="6.75" fill="#3d6ea8" transform="translate(405.6 477.9) scale(0.915 1)">HbAA (Donor)</text>
<text font-size="6.75" fill="#c2304f" transform="translate(405.6 488.1) scale(0.915 1)">HbS (Recipient)</text>
<text x="300.7" y="562.2" font-size="8.56" text-anchor="start" fill="#231f20" stroke="#231f20" stroke-width="0.03" >0080-18 HbSS Post-HSCT</text>
<line x1="300.4" y1="566.9" x2="300.4" y2="658" stroke="#231f20" stroke-width="1.3" />
<line x1="297.6" y1="657.4" x2="300.4" y2="657.4" stroke="#231f20" stroke-width="1" />
<text x="294.5" y="659.1" font-size="6" text-anchor="end" fill="#231f20" stroke="#231f20" stroke-width="0" >0</text>
<line x1="297.6" y1="635.5" x2="300.4" y2="635.5" stroke="#231f20" stroke-width="1" />
<text x="294.5" y="637.2" font-size="6" text-anchor="end" fill="#231f20" stroke="#231f20" stroke-width="0" >25</text>
<line x1="297.6" y1="613.4" x2="300.4" y2="613.4" stroke="#231f20" stroke-width="1" />
<text x="294.5" y="615.1" font-size="6" text-anchor="end" fill="#231f20" stroke="#231f20" stroke-width="0" >50</text>
<line x1="297.6" y1="591.4" x2="300.4" y2="591.4" stroke="#231f20" stroke-width="1" />
<text x="294.5" y="593.1" font-size="6" text-anchor="end" fill="#231f20" stroke="#231f20" stroke-width="0" >75</text>
<line x1="297.6" y1="569.4" x2="300.4" y2="569.4" stroke="#231f20" stroke-width="1" />
<text x="294.5" y="571.1" font-size="6" text-anchor="end" fill="#231f20" stroke="#231f20" stroke-width="0" >100</text>
<line x1="299.8" y1="657.4" x2="401.7" y2="657.4" stroke="#231f20" stroke-width="1.3" />
<line x1="309.4" y1="657.4" x2="309.4" y2="660.2" stroke="#231f20" stroke-width="1" />
<text x="309.4" y="669.3" font-size="6" text-anchor="middle" fill="#231f20" stroke="#231f20" stroke-width="0" >1</text>
<line x1="322.6" y1="657.4" x2="322.6" y2="660.2" stroke="#231f20" stroke-width="1" />
<text x="322.6" y="669.3" font-size="6" text-anchor="middle" fill="#231f20" stroke="#231f20" stroke-width="0" >2</text>
<line x1="335.8" y1="657.4" x2="335.8" y2="660.2" stroke="#231f20" stroke-width="1" />
<text x="335.8" y="669.3" font-size="6" text-anchor="middle" fill="#231f20" stroke="#231f20" stroke-width="0" >6</text>
<line x1="366.6" y1="657.4" x2="366.6" y2="660.2" stroke="#231f20" stroke-width="1" />
<text x="366.6" y="669.3" font-size="6" text-anchor="middle" fill="#231f20" stroke="#231f20" stroke-width="0" >1</text>
<line x1="379.8" y1="657.4" x2="379.8" y2="660.2" stroke="#231f20" stroke-width="1" />
<text x="379.8" y="669.3" font-size="6" text-anchor="middle" fill="#231f20" stroke="#231f20" stroke-width="0" >2</text>
<line x1="393.1" y1="657.4" x2="393.1" y2="660.2" stroke="#231f20" stroke-width="1" />
<text x="393.1" y="669.3" font-size="6" text-anchor="middle" fill="#231f20" stroke="#231f20" stroke-width="0" >6</text>
<text font-size="6.4" fill="#231f20" stroke="#231f20" stroke-width="0.1" text-anchor="middle" transform="translate(351.2 680.7) scale(0.92 1)">Weeks post-infusion</text>
<text font-size="6.7" fill="#231f20" stroke="#231f20" stroke-width="0.12" text-anchor="middle" transform="translate(265.1 612.8) rotate(-90) scale(0.868 1)">Proportion of RBCs</text>
<text font-size="6.7" fill="#231f20" stroke="#231f20" stroke-width="0.12" text-anchor="middle" transform="translate(275.9 612.8) rotate(-90) scale(0.88 1)">containing HbA or HbS (%)</text>
<line x1="305.2" y1="613.3" x2="313.7" y2="613.3" stroke="#3c3c3c" stroke-width="1.3" />
<line x1="318.6" y1="613.3" x2="327" y2="613.3" stroke="#3c3c3c" stroke-width="1.3" />
<line x1="331.9" y1="613.3" x2="340.3" y2="613.3" stroke="#3c3c3c" stroke-width="1.3" />
<line x1="375.7" y1="613.3" x2="384.1" y2="613.3" stroke="#3c3c3c" stroke-width="1.3" />
<line x1="388.4" y1="613.3" x2="397.9" y2="613.3" stroke="#3c3c3c" stroke-width="1.3" />
<line x1="351.4" y1="571" x2="351.4" y2="656" stroke="#2a2a2a" stroke-width="1" stroke-dasharray="3 2.1 0.7 2.4"/>
<circle cx="309.5" cy="585.8" r="2.1" fill="#1a3d6a"/>
<circle cx="322.4" cy="577.3" r="2.1" fill="#1a3d6a"/>
<circle cx="335.7" cy="575.4" r="2.1" fill="#1a3d6a"/>
<circle cx="309.5" cy="641" r="2.1" fill="#b3122f"/>
<circle cx="322.4" cy="649.3" r="2.1" fill="#b3122f"/>
<circle cx="335.7" cy="651.4" r="2.1" fill="#b3122f"/>
<rect x="378.15" y="583.65" width="3.5" height="3.5" fill="none" stroke="#3a6496" stroke-width="0.9"/>
<rect x="391.25" y="585.75" width="3.5" height="3.5" fill="none" stroke="#3a6496" stroke-width="0.9"/>
<rect x="378.15" y="639.65" width="3.5" height="3.5" fill="none" stroke="#c3304f" stroke-width="0.9"/>
<rect x="391.25" y="637.55" width="3.5" height="3.5" fill="none" stroke="#c3304f" stroke-width="0.9"/>
<circle cx="407.1" cy="596.3" r="1.9" fill="#111"/>
<text font-size="6.75" fill="#231f20" transform="translate(412.1 598.6) scale(0.915 1)">Biotin Positive</text>
<rect x="405.4" y="604.6" width="3.4" height="3.4" fill="none" stroke="#222" stroke-width="0.9"/>
<text font-size="6.75" fill="#231f20" transform="translate(412.1 608.6) scale(0.915 1)">Biotin Negative</text>
<text font-size="6.75" fill="#3d6ea8" transform="translate(405.6 619.8) scale(0.915 1)">HbAA (Donor)</text>
<text font-size="6.75" fill="#c2304f" transform="translate(405.6 630) scale(0.915 1)">HbS (Recipient)</text>
<rect x="0" y="0" width="520" height="1" fill="#5a5a5a"/>
<rect x="0" y="0" width="1" height="695" fill="#4a4a4a"/>
<rect x="518.8" y="0" width="1.2" height="695" fill="#3a3a3a"/>
<rect x="0" y="693.4" width="520" height="1.6" fill="#3a3a3a"/>
</svg>
</body></html>
